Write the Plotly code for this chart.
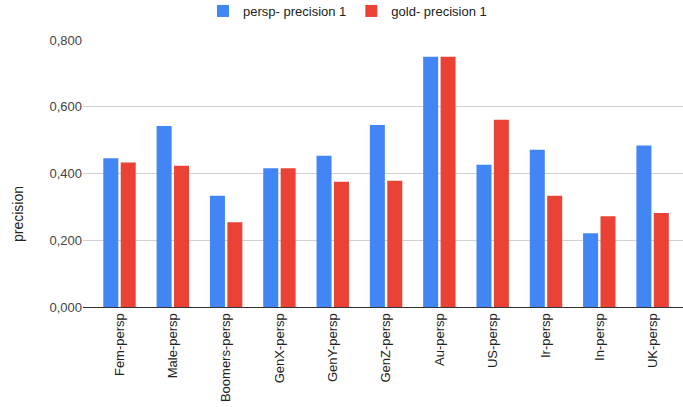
import plotly.graph_objects as go

categories = ["Fem-persp", "Male-persp", "Boomers-persp", "GenX-persp", "GenY-persp",
              "GenZ-persp", "Au-persp", "US-persp", "Ir-persp", "In-persp", "UK-persp"]
persp_precision = [0.446, 0.542, 0.333, 0.416, 0.453, 0.545, 0.750, 0.426, 0.471, 0.221, 0.484]
gold_precision = [0.433, 0.423, 0.254, 0.416, 0.375, 0.378, 0.750, 0.561, 0.333, 0.272, 0.282]
y_ticks = [0.0, 0.2, 0.4, 0.6, 0.8]

FONT = "Liberation Sans, Arial, sans-serif"

fig = go.Figure()
fig.add_trace(go.Bar(x=categories, y=persp_precision, name="persp- precision 1",
                     marker=dict(color="#4285F4", line=dict(width=0))))
fig.add_trace(go.Bar(x=categories, y=gold_precision, name="gold- precision 1",
                     marker=dict(color="#EA4335", line=dict(width=0))))

fig.update_layout(
    width=683, height=407,
    margin=dict(l=83, r=0, t=40, b=100),
    paper_bgcolor="white", plot_bgcolor="white",
    separators=",.",
    barmode="group", bargap=0.347, bargroupgap=0.138,
    font=dict(family=FONT, size=13, color="#444"),
    showlegend=True,
    legend=dict(orientation="h", xref="container", yref="container",
                x=203 / 683, xanchor="left", y=1 - 11 / 407, yanchor="middle",
                font=dict(family=FONT, size=13, color="#222"), itemwidth=30),
    xaxis=dict(range=[-0.685, 10.57], tickangle=-90, showline=True, linecolor="#333",
               linewidth=1, ticks="", tickfont=dict(family=FONT, size=13, color="#222"),
               showgrid=False, automargin=False),
    yaxis=dict(range=[0, 0.8], tickvals=y_ticks, tickformat=".3f", showgrid=True,
               gridcolor="#d0d0d0", zeroline=False, ticks="", automargin=False,
               tickfont=dict(family=FONT, size=13, color="#444")),
    annotations=[dict(text="precision", xref="paper", yref="paper",
                      x=-(83 - 18) / 600, y=(307 - 214) / 267,
                      xanchor="center", yanchor="middle", textangle=-90,
                      showarrow=False, font=dict(family=FONT, size=14, color="#222"))],
)

fig.write_html("out.html", config={"displayModeBar": False},
               post_script="document.body.style.margin='0';document.body.style.overflow='hidden';")
